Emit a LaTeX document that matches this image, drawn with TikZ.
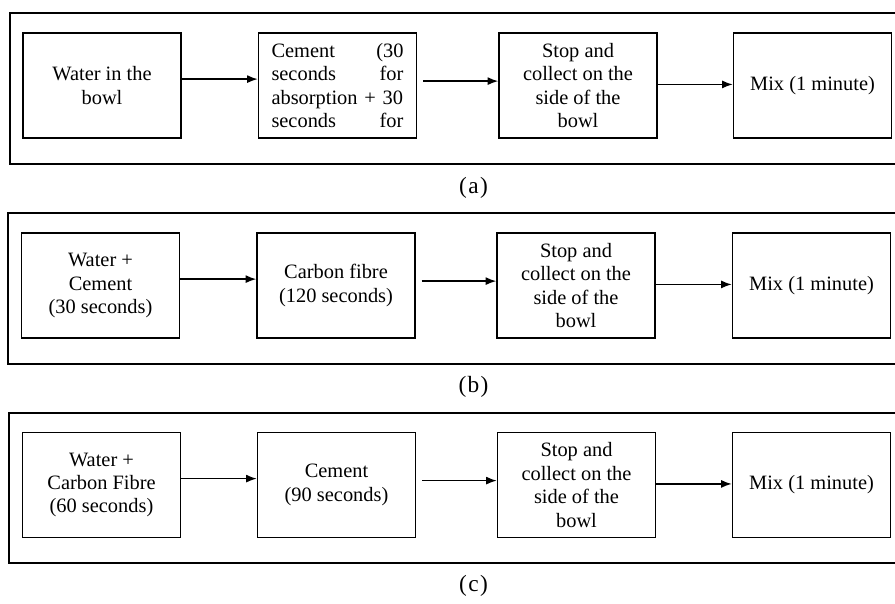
\documentclass[tikz,border=0pt]{standalone}
\usepackage{fontspec}
\setmainfont{Liberation Serif}
\usetikzlibrary{arrows.meta}
\begin{document}
\begin{tikzpicture}[x=0.75pt,y=-0.75pt,
	stage/.style={draw,line width=1pt,minimum width=118.5pt,minimum height=78.75pt,inner sep=0pt,align=center,font=\fontsize{15.3}{17.6}\selectfont},
	panel/.style={line width=1pt},
	arr/.style={-{Latex[length=8pt,width=6pt]},line width=1.2pt},
	tag/.style={font=\fontsize{17.5}{20}\selectfont}]
	\useasboundingbox (0,0) rectangle (895,603);
	\draw[panel] (895,13) -| (10,164) -- (895,164);
	\draw[panel] (895,213) -| (8,364) -- (895,364);
	\draw[panel] (895,413) -| (9,563) -- (895,563);
	\node[stage] (a1) at (102,85.5) {Water in the\\bowl};
	\node[stage,text width=99pt,align=left] (a2) at (337.5,85.5) {Cement\hfill(30\\seconds\hfill for\\\mbox{absorption + 30}\\seconds\hfill for};
	\node[stage] (a3) at (578,85.5) {Stop and\\collect on the\\side of the\\bowl};
	\node[stage] (a4) at (812.5,85.5) {Mix (1 minute)};
	\node[stage] (b1) at (100.5,285.5) {Water +\\Cement\\(30 seconds)};
	\node[stage] (b2) at (336,285.5) {Carbon fibre\\(120 seconds)};
	\node[stage] (b3) at (576,285.5) {Stop and\\collect on the\\side of the\\bowl};
	\node[stage] (b4) at (811.5,285.5) {Mix (1 minute)};
	\node[stage] (c1) at (101.5,485) {Water +\\Carbon Fibre\\(60 seconds)};
	\node[stage] (c2) at (336.5,485) {Cement\\(90 seconds)};
	\node[stage] (c3) at (576.5,485) {Stop and\\collect on the\\side of the\\bowl};
	\node[stage] (c4) at (811.5,485) {Mix (1 minute)};
	\foreach \r in {a,b,c}{
		\draw[arr] ([yshift=4.8pt]\r1.east) -- ([yshift=4.8pt]\r2.west);
		\draw[arr] ([xshift=4.5pt,yshift=3.3pt]\r2.east) -- ([yshift=3.3pt]\r3.west);
		\draw[arr] ([yshift=0.8pt]\r3.east) -- ([yshift=0.8pt]\r4.west);
	}
	\node[tag] (la) at (473.5,188) {(\kern1pt a\kern1pt)};
	\node[tag] (lb) at (473.5,387) {(\kern1pt b\kern1pt)};
	\node[tag] (lc) at (473.5,586) {(\kern1pt c\kern1pt)};
\end{tikzpicture}
\end{document}
